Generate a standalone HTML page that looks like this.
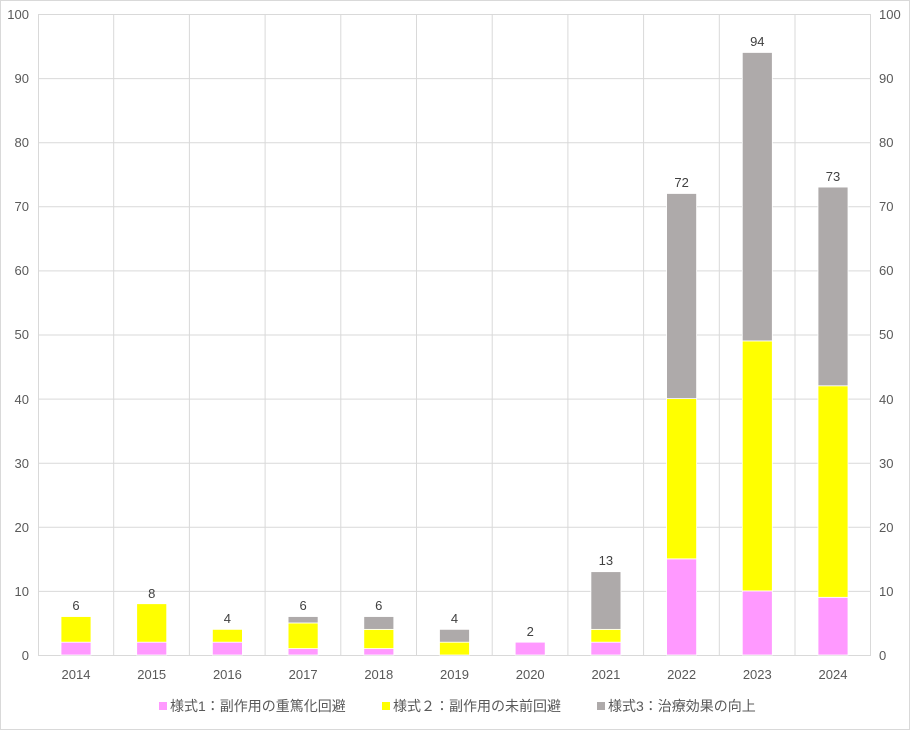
<!DOCTYPE html>
<html><head><meta charset="utf-8"><style>
body{margin:0;background:#fff}
svg text{font-family:"Liberation Sans","Noto Sans CJK JP",sans-serif;}
</style></head><body>
<svg width="910" height="730" xmlns="http://www.w3.org/2000/svg">
<rect x="0.5" y="0.5" width="909" height="729" fill="#fff" stroke="#d9d9d9"/>
<g stroke="#d9d9d9" stroke-width="1">
<line x1="38" x2="871" y1="14.5" y2="14.5"/>
<line x1="38" x2="871" y1="78.6" y2="78.6"/>
<line x1="38" x2="871" y1="142.7" y2="142.7"/>
<line x1="38" x2="871" y1="206.8" y2="206.8"/>
<line x1="38" x2="871" y1="270.9" y2="270.9"/>
<line x1="38" x2="871" y1="335" y2="335"/>
<line x1="38" x2="871" y1="399.1" y2="399.1"/>
<line x1="38" x2="871" y1="463.2" y2="463.2"/>
<line x1="38" x2="871" y1="527.3" y2="527.3"/>
<line x1="38" x2="871" y1="591.4" y2="591.4"/>
<line x1="38.5" x2="38.5" y1="14" y2="655"/>
<line x1="113.7" x2="113.7" y1="14" y2="655"/>
<line x1="189.4" x2="189.4" y1="14" y2="655"/>
<line x1="265.1" x2="265.1" y1="14" y2="655"/>
<line x1="340.8" x2="340.8" y1="14" y2="655"/>
<line x1="416.5" x2="416.5" y1="14" y2="655"/>
<line x1="492.2" x2="492.2" y1="14" y2="655"/>
<line x1="567.9" x2="567.9" y1="14" y2="655"/>
<line x1="643.6" x2="643.6" y1="14" y2="655"/>
<line x1="719.3" x2="719.3" y1="14" y2="655"/>
<line x1="795" x2="795" y1="14" y2="655"/>
<line x1="870.5" x2="870.5" y1="14" y2="655"/>
<line x1="38" x2="871" y1="655.5" y2="655.5"/>
</g>
<g stroke="#fff" stroke-width="0.8">
<rect x="61" y="642.18" width="30" height="12.82" fill="#FF99FF"/>
<rect x="61" y="616.54" width="30" height="25.64" fill="#FFFF00"/>
<rect x="136.7" y="642.18" width="30" height="12.82" fill="#FF99FF"/>
<rect x="136.7" y="603.72" width="30" height="38.46" fill="#FFFF00"/>
<rect x="212.4" y="642.18" width="30" height="12.82" fill="#FF99FF"/>
<rect x="212.4" y="629.36" width="30" height="12.82" fill="#FFFF00"/>
<rect x="288.1" y="648.59" width="30" height="6.41" fill="#FF99FF"/>
<rect x="288.1" y="622.95" width="30" height="25.64" fill="#FFFF00"/>
<rect x="288.1" y="616.54" width="30" height="6.41" fill="#AEAAAA"/>
<rect x="363.8" y="648.59" width="30" height="6.41" fill="#FF99FF"/>
<rect x="363.8" y="629.36" width="30" height="19.23" fill="#FFFF00"/>
<rect x="363.8" y="616.54" width="30" height="12.82" fill="#AEAAAA"/>
<rect x="439.5" y="642.18" width="30" height="12.82" fill="#FFFF00"/>
<rect x="439.5" y="629.36" width="30" height="12.82" fill="#AEAAAA"/>
<rect x="515.2" y="642.18" width="30" height="12.82" fill="#FF99FF"/>
<rect x="590.9" y="642.18" width="30" height="12.82" fill="#FF99FF"/>
<rect x="590.9" y="629.36" width="30" height="12.82" fill="#FFFF00"/>
<rect x="590.9" y="571.67" width="30" height="57.69" fill="#AEAAAA"/>
<rect x="666.6" y="558.85" width="30" height="96.15" fill="#FF99FF"/>
<rect x="666.6" y="398.6" width="30" height="160.25" fill="#FFFF00"/>
<rect x="666.6" y="193.48" width="30" height="205.12" fill="#AEAAAA"/>
<rect x="742.3" y="590.9" width="30" height="64.1" fill="#FF99FF"/>
<rect x="742.3" y="340.91" width="30" height="249.99" fill="#FFFF00"/>
<rect x="742.3" y="52.46" width="30" height="288.45" fill="#AEAAAA"/>
<rect x="818" y="597.31" width="30" height="57.69" fill="#FF99FF"/>
<rect x="818" y="385.78" width="30" height="211.53" fill="#FFFF00"/>
<rect x="818" y="187.07" width="30" height="198.71" fill="#AEAAAA"/>
</g>
<g font-size="13" fill="#404040" text-anchor="middle">
<text x="76" y="610">6</text>
<text x="151.7" y="598">8</text>
<text x="227.4" y="623">4</text>
<text x="303.1" y="610">6</text>
<text x="378.8" y="610">6</text>
<text x="454.5" y="623">4</text>
<text x="530.2" y="636">2</text>
<text x="605.9" y="565">13</text>
<text x="681.6" y="187">72</text>
<text x="757.3" y="46">94</text>
<text x="833" y="181">73</text>
</g>
<g font-size="13" fill="#595959" text-anchor="end">
<text x="29" y="19">100</text><text x="29" y="83">90</text><text x="29" y="147">80</text>
<text x="29" y="211">70</text><text x="29" y="275">60</text><text x="29" y="339">50</text>
<text x="29" y="404">40</text><text x="29" y="468">30</text><text x="29" y="532">20</text>
<text x="29" y="596">10</text><text x="29" y="660">0</text>
</g>
<g font-size="13" fill="#595959" text-anchor="start">
<text x="879" y="19">100</text><text x="879" y="83">90</text><text x="879" y="147">80</text>
<text x="879" y="211">70</text><text x="879" y="275">60</text><text x="879" y="339">50</text>
<text x="879" y="404">40</text><text x="879" y="468">30</text><text x="879" y="532">20</text>
<text x="879" y="596">10</text><text x="879" y="660">0</text>
</g>
<g font-size="13" fill="#595959" text-anchor="middle">
<text x="76" y="679">2014</text><text x="151.7" y="679">2015</text><text x="227.4" y="679">2016</text>
<text x="303.1" y="679">2017</text><text x="378.8" y="679">2018</text><text x="454.5" y="679">2019</text>
<text x="530.2" y="679">2020</text><text x="605.9" y="679">2021</text><text x="681.6" y="679">2022</text>
<text x="757.3" y="679">2023</text><text x="833" y="679">2024</text>
</g>
<g font-size="14" fill="#595959">
<rect x="159" y="702" width="8" height="8" fill="#FF99FF"/>
<text x="170" y="711">様式1：副作用の重篤化回避</text>
<rect x="382" y="702" width="8" height="8" fill="#FFFF00"/>
<text x="393" y="711">様式２：副作用の未前回避</text>
<rect x="597" y="702" width="8" height="8" fill="#AEAAAA"/>
<text x="608" y="711">様式3：治療効果の向上</text>
</g>
</svg>
</body></html>
